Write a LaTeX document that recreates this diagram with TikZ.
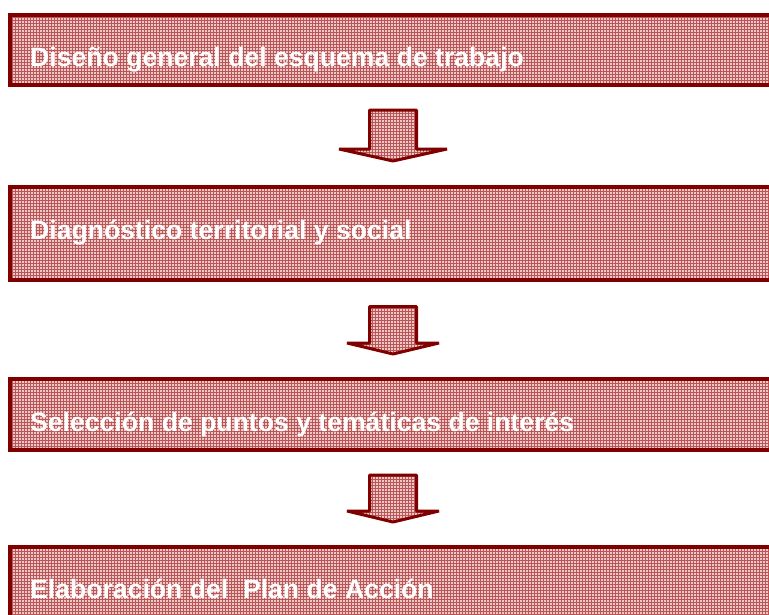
\documentclass[tikz,border=0pt]{standalone}
\usepackage{fontspec}
\setmainfont{Liberation Sans}
\usepackage{tikz}
\usetikzlibrary{positioning,patterns}

\definecolor{boxred}{RGB}{128,0,0}
\definecolor{boxfill}{RGB}{238,200,200}
\definecolor{gridred}{RGB}{185,85,85}

\tikzset{
  stagebox/.style={draw=boxred, line width=4pt, preaction={fill=boxfill},
    pattern=grid, pattern color=gridred, minimum width=780pt, inner sep=0pt},
  stagetext/.style={anchor=base west, inner sep=0pt, text=white,
    font=\bfseries\fontsize{26.6}{30}\selectfont},
  fatarrow/.style={draw=boxred, line width=3pt, line join=bevel,
    preaction={fill=boxfill}, pattern=grid, pattern color=gridred}
}

\begin{document}
\begin{tikzpicture}[x=1pt,y=-1pt]
\useasboundingbox (0,0) rectangle (769,614);
\clip (0,0) rectangle (769,614);
% stages
\node[stagebox, minimum height=70.5pt] (b1) at (400,49.75) {};
\node[stagebox, minimum height=93.5pt] (b2) at (400,233.25) {};
\node[stagebox, minimum height=71.5pt] (b3) at (400,414.25) {};
\node[stagebox, minimum height=90pt] (b4) at (400,592) {};
\node[stagetext] (t1) at (30,66.7) {Diseño general del esquema de trabajo};
\node[stagetext] (t2) at (30,239.3) {Diagnóstico territorial y social};
\node[stagetext] (t3) at (30,431.7) {Selección de puntos y temáticas de interés};
\node[stagetext] (t4) at (30,598) {Elaboración del\ \ Plan de Acción};
% arrows between stages
\draw[fatarrow] (369.5,110) -- (416.5,110) -- (416.5,149) -- (447,149) -- (393,161)
  -- (339,149) -- (369.5,149) -- cycle;
\draw[fatarrow] (369.5,306.5) -- (416.5,306.5) -- (416.5,343) -- (439,343) -- (393,354)
  -- (347,343) -- (369.5,343) -- cycle;
\draw[fatarrow] (369.5,475) -- (416.5,475) -- (416.5,511) -- (439,511) -- (393,522)
  -- (347,511) -- (369.5,511) -- cycle;
\end{tikzpicture}
\end{document}
